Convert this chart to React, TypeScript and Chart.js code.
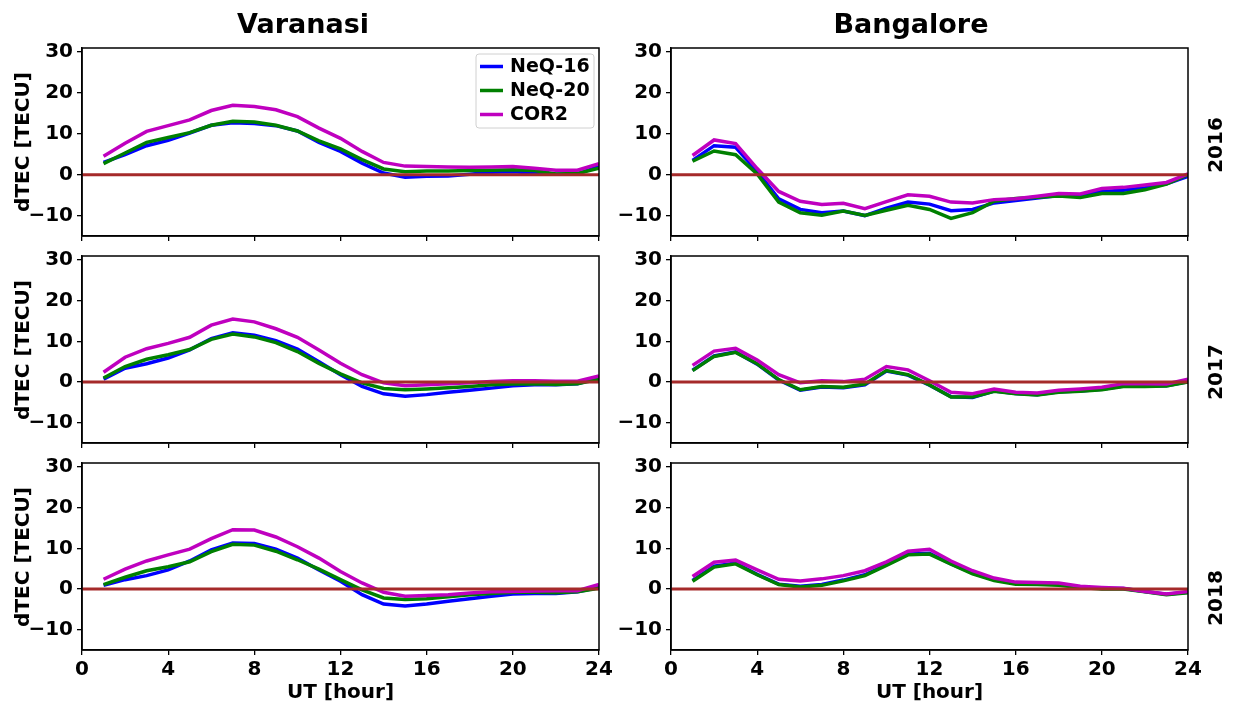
import React, { useEffect, useRef } from "react";
import { Chart, registerables } from "chart.js";

Chart.register(...registerables);

// ---- data -------------------------------------------------------------
const HOURS = [1, 2, 3, 4, 5, 6, 7, 8, 9, 10, 11, 12, 13, 14, 15, 16, 17, 18, 19, 20, 21, 22, 23, 24];
const X_TICKS = [0, 4, 8, 12, 16, 20, 24];
const Y_TICKS = [-10, 0, 10, 20, 30];
const SITES = ["Varanasi", "Bangalore"];
const YEARS = ["2016", "2017", "2018"];
const SERIES_NAMES = ["NeQ-16", "NeQ-20", "COR2"];

// Varanasi
const VARANASI_2016_NEQ16 = [3.0, 4.9, 7.1, 8.4, 10.2, 12.1, 12.7, 12.5, 12.0, 10.7, 7.9, 5.7, 2.8, 0.4, -0.6, -0.4, -0.3, 0.1, 0.6, 0.7, 0.4, 0.1, 0.2, 2.0];
const VARANASI_2016_NEQ20 = [2.7, 5.3, 7.9, 9.1, 10.3, 12.1, 13.1, 12.9, 12.1, 10.7, 8.3, 6.3, 3.7, 1.4, 0.7, 0.9, 0.9, 1.0, 1.1, 1.2, 1.0, 0.2, 0.3, 1.6];
const VARANASI_2016_COR2 = [4.5, 7.7, 10.6, 12.0, 13.4, 15.7, 17.0, 16.7, 15.9, 14.2, 11.4, 8.9, 5.7, 3.0, 2.1, 2.0, 1.9, 1.8, 1.9, 2.0, 1.6, 1.1, 1.1, 2.7];

const VARANASI_2017_NEQ16 = [0.7, 3.4, 4.5, 5.9, 7.9, 10.7, 12.1, 11.5, 10.2, 8.1, 5.0, 1.8, -1.1, -2.9, -3.5, -3.1, -2.5, -2.0, -1.5, -0.9, -0.7, -0.7, -0.4, 1.0];
const VARANASI_2017_NEQ20 = [1.0, 3.8, 5.6, 6.7, 8.0, 10.5, 11.8, 11.1, 9.7, 7.5, 4.6, 2.0, -0.2, -1.6, -1.9, -1.7, -1.4, -1.1, -0.7, -0.5, -0.4, -0.6, -0.4, 0.7];
const VARANASI_2017_COR2 = [2.4, 6.1, 8.2, 9.5, 11.0, 14.0, 15.5, 14.8, 13.1, 11.0, 7.9, 4.6, 1.8, -0.2, -0.9, -0.7, -0.4, -0.2, 0.1, 0.3, 0.3, 0.2, 0.2, 1.5];

const VARANASI_2018_NEQ16 = [0.9, 2.3, 3.3, 4.7, 6.9, 9.6, 11.3, 11.2, 9.8, 7.6, 4.7, 1.9, -1.4, -3.7, -4.2, -3.7, -3.0, -2.4, -1.8, -1.2, -1.1, -1.1, -0.7, 0.4];
const VARANASI_2018_NEQ20 = [1.1, 2.9, 4.5, 5.5, 6.7, 9.2, 11.0, 10.8, 9.3, 7.2, 4.9, 2.3, -0.2, -2.2, -2.6, -2.4, -1.9, -1.4, -1.1, -0.8, -0.8, -0.9, -0.7, 0.2];
const VARANASI_2018_COR2 = [2.4, 4.9, 6.9, 8.4, 9.8, 12.4, 14.6, 14.5, 12.8, 10.4, 7.6, 4.3, 1.5, -0.8, -1.8, -1.6, -1.4, -1.0, -0.7, -0.6, -0.5, -0.4, -0.4, 1.1];

// Bangalore
const BANGALORE_2016_NEQ16 = [3.5, 7.1, 6.7, 0.8, -5.9, -8.5, -9.3, -8.9, -10.0, -8.2, -6.7, -7.2, -8.8, -8.5, -6.9, -6.3, -5.7, -5.1, -5.1, -4.1, -3.8, -3.2, -2.2, -0.4];
const BANGALORE_2016_NEQ20 = [3.3, 5.8, 4.9, 0.2, -6.7, -9.3, -9.9, -8.9, -10.0, -8.7, -7.5, -8.5, -10.7, -9.3, -6.5, -5.8, -5.5, -5.2, -5.6, -4.6, -4.6, -3.7, -2.3, 0.0];
const BANGALORE_2016_COR2 = [4.7, 8.5, 7.6, 1.5, -4.1, -6.5, -7.3, -7.0, -8.3, -6.6, -4.9, -5.3, -6.7, -6.9, -6.1, -5.9, -5.3, -4.6, -4.7, -3.4, -3.1, -2.5, -1.9, 0.2];

const BANGALORE_2017_NEQ16 = [2.9, 6.4, 7.4, 4.4, 0.5, -2.0, -1.2, -1.4, -0.7, 2.7, 1.7, -0.8, -3.6, -3.8, -2.2, -2.8, -3.1, -2.4, -2.2, -1.8, -1.0, -1.0, -0.9, 0.1];
const BANGALORE_2017_NEQ20 = [2.8, 6.3, 7.3, 4.5, 0.6, -1.9, -1.1, -1.3, -0.5, 2.8, 1.8, -0.7, -3.7, -3.7, -2.3, -2.9, -3.2, -2.5, -2.3, -1.9, -1.1, -1.1, -1.0, 0.0];
const BANGALORE_2017_COR2 = [4.1, 7.6, 8.3, 5.4, 1.8, -0.2, 0.3, 0.1, 0.7, 3.8, 3.0, 0.3, -2.5, -2.9, -1.7, -2.5, -2.7, -2.0, -1.7, -1.3, -0.4, -0.4, -0.5, 0.7];

const BANGALORE_2018_NEQ16 = [2.1, 5.6, 6.4, 3.6, 1.2, 0.7, 1.1, 2.2, 3.5, 6.0, 8.6, 8.8, 6.2, 3.9, 2.3, 1.4, 1.3, 1.1, 0.5, 0.1, 0.1, -0.6, -1.3, -0.8];
const BANGALORE_2018_NEQ20 = [1.9, 5.4, 6.2, 3.5, 1.1, 0.5, 0.9, 2.0, 3.3, 5.8, 8.4, 8.6, 6.1, 3.7, 2.1, 1.2, 1.1, 0.9, 0.4, 0.0, 0.0, -0.7, -1.4, -0.9];
const BANGALORE_2018_COR2 = [3.1, 6.6, 7.1, 4.7, 2.4, 2.0, 2.5, 3.3, 4.5, 6.7, 9.3, 9.8, 6.9, 4.5, 2.7, 1.7, 1.6, 1.5, 0.7, 0.4, 0.2, -0.6, -1.2, -0.6];

const ZERO_LEVEL = 0;

// ---- styling ----------------------------------------------------------
const FONT_FAMILY = "'DejaVu Sans', 'Liberation Sans', sans-serif";
const SERIES_COLORS = ["#0000ff", "#008000", "#bf00bf"];
const ZERO_COLOR = "#a52a2a";
const X_MIN = 0;
const X_MAX = 24;
const Y_MIN = -15;
const Y_MAX = 31;

const PLOT_W = 517;
const COL_LEFT = [82, 671];
const ROW_TOP = [48, 256, 463];
const ROW_H = [188, 187, 187];

const AXIS_W = 60; // room for the y tick labels
const PAD_T = 16;
const PAD_R = 26;

const framePlugin = {
  id: "frame",
  afterDraw(chart: any) {
    const { ctx, chartArea } = chart;
    ctx.save();
    ctx.strokeStyle = "#000";
    ctx.lineWidth = 1.5;
    ctx.strokeRect(chartArea.left, chartArea.top, chartArea.right - chartArea.left, chartArea.bottom - chartArea.top);
    ctx.restore();
  },
};

const legendPlugin = {
  id: "seriesLegend",
  afterDraw(chart: any) {
    const { ctx, chartArea } = chart;
    const w = 118;
    const h = 74;
    const x = chartArea.right - 5 - w;
    const y = chartArea.top + 6;
    ctx.save();
    ctx.beginPath();
    ctx.roundRect(x, y, w, h, 3);
    ctx.fillStyle = "rgba(255,255,255,0.8)";
    ctx.fill();
    ctx.strokeStyle = "#d0d0d0";
    ctx.lineWidth = 1;
    ctx.stroke();
    ctx.font = `bold 19px ${FONT_FAMILY}`;
    ctx.textBaseline = "middle";
    SERIES_NAMES.forEach((name, i) => {
      const cy = y + 12.5 + i * 24;
      ctx.strokeStyle = SERIES_COLORS[i];
      ctx.lineWidth = 3.5;
      ctx.beginPath();
      ctx.moveTo(x + 4, cy);
      ctx.lineTo(x + 27, cy);
      ctx.stroke();
      ctx.fillStyle = "#000";
      ctx.fillText(name, x + 34, cy + 1);
    });
    ctx.restore();
  },
};

const tickLabel = (v: number | string) => {
  const n = Number(v);
  return n < 0 ? "\u2212" + Math.abs(n) : String(n);
};

type PanelProps = {
  col: number;
  row: number;
  series: number[][];
  legend: boolean;
  xLabels: boolean;
};

function Panel({ col, row, series, legend, xLabels }: PanelProps) {
  const ref = useRef<HTMLCanvasElement>(null);
  const plotH = ROW_H[row];
  const xh = xLabels ? 40 : 18;
  const cw = AXIS_W + PLOT_W + PAD_R;
  const ch = PAD_T + plotH + xh;

  useEffect(() => {
    if (!ref.current) return;
    const points = (ys: number[]) => HOURS.map((h, i) => ({ x: h, y: ys[i] }));
    const tickFont = { family: FONT_FAMILY, size: 20, weight: "bold" as const };
    const grid = {
      display: true,
      drawOnChartArea: false,
      drawTicks: true,
      tickLength: 5,
      color: "#000",
      lineWidth: 1.3,
    };
    const border = { display: true, color: "#000", width: 1.5 };

    const chart = new Chart(ref.current, {
      type: "line",
      data: {
        datasets: [
          {
            label: "zero",
            data: [
              { x: X_MIN, y: ZERO_LEVEL },
              { x: X_MAX, y: ZERO_LEVEL },
            ],
            borderColor: ZERO_COLOR,
            borderWidth: 3,
            pointRadius: 0,
            order: 0,
          },
          {
            label: SERIES_NAMES[2],
            data: points(series[2]),
            borderColor: SERIES_COLORS[2],
            borderWidth: 3.5,
            pointRadius: 0,
            order: 1,
          },
          {
            label: SERIES_NAMES[1],
            data: points(series[1]),
            borderColor: SERIES_COLORS[1],
            borderWidth: 3.5,
            pointRadius: 0,
            order: 2,
          },
          {
            label: SERIES_NAMES[0],
            data: points(series[0]),
            borderColor: SERIES_COLORS[0],
            borderWidth: 3.5,
            pointRadius: 0,
            order: 3,
          },
        ],
      },
      options: {
        animation: false,
        responsive: false,
        events: [],
        layout: { padding: { top: PAD_T, right: PAD_R, left: 0, bottom: 0 } },
        plugins: {
          legend: { display: false },
          tooltip: { enabled: false },
          title: { display: false },
        },
        scales: {
          x: {
            type: "linear",
            min: X_MIN,
            max: X_MAX,
            afterBuildTicks: (s: any) => {
              s.ticks = X_TICKS.map((v) => ({ value: v }));
            },
            afterFit: (s: any) => {
              s.height = xh;
            },
            ticks: {
              display: xLabels,
              font: tickFont,
              color: "#000",
              padding: 3,
              maxRotation: 0,
              autoSkip: false,
              callback: tickLabel,
            },
            grid,
            border,
          },
          y: {
            type: "linear",
            min: Y_MIN,
            max: Y_MAX,
            afterBuildTicks: (s: any) => {
              s.ticks = Y_TICKS.map((v) => ({ value: v }));
            },
            afterFit: (s: any) => {
              s.width = AXIS_W;
            },
            ticks: {
              font: tickFont,
              color: "#000",
              padding: 4,
              autoSkip: false,
              callback: tickLabel,
            },
            grid,
            border,
          },
        },
      },
      plugins: legend ? [framePlugin, legendPlugin] : [framePlugin],
    } as any);
    return () => chart.destroy();
  }, []);

  return (
    <canvas
      ref={ref}
      width={cw}
      height={ch}
      style={{
        position: "absolute",
        left: COL_LEFT[col] - AXIS_W,
        top: ROW_TOP[row] - PAD_T,
        width: cw,
        height: ch,
      }}
    />
  );
}

const textStyle = (
  cx: number,
  cy: number,
  size: number,
  rotate: boolean
): React.CSSProperties => ({
  position: "absolute",
  left: cx,
  top: cy,
  transform: `translate(-50%, -50%)${rotate ? " rotate(-90deg)" : ""}`,
  fontFamily: FONT_FAMILY,
  fontWeight: "bold",
  fontSize: size,
  lineHeight: 1,
  whiteSpace: "nowrap",
  color: "#000",
});

const PANELS = [
  { col: 0, row: 0, series: [VARANASI_2016_NEQ16, VARANASI_2016_NEQ20, VARANASI_2016_COR2] },
  { col: 0, row: 1, series: [VARANASI_2017_NEQ16, VARANASI_2017_NEQ20, VARANASI_2017_COR2] },
  { col: 0, row: 2, series: [VARANASI_2018_NEQ16, VARANASI_2018_NEQ20, VARANASI_2018_COR2] },
  { col: 1, row: 0, series: [BANGALORE_2016_NEQ16, BANGALORE_2016_NEQ20, BANGALORE_2016_COR2] },
  { col: 1, row: 1, series: [BANGALORE_2017_NEQ16, BANGALORE_2017_NEQ20, BANGALORE_2017_COR2] },
  { col: 1, row: 2, series: [BANGALORE_2018_NEQ16, BANGALORE_2018_NEQ20, BANGALORE_2018_COR2] },
];

const TITLE_X = [303, 911];
const YEAR_Y = [145, 372, 598];

export default function App() {
  return (
    <div
      style={{
        position: "fixed",
        left: 0,
        top: 0,
        width: 1234,
        height: 707,
        background: "#fff",
        overflow: "hidden",
      }}
    >
      {PANELS.map((p) => (
        <Panel
          key={`${p.col}-${p.row}`}
          col={p.col}
          row={p.row}
          series={p.series}
          legend={p.col === 0 && p.row === 0}
          xLabels={p.row === 2}
        />
      ))}
      {SITES.map((s, i) => (
        <div key={s} style={textStyle(TITLE_X[i], 23, 27, false)}>
          {s}
        </div>
      ))}
      {COL_LEFT.map((l, i) => (
        <div key={`ut-${i}`} style={textStyle(l + PLOT_W / 2, 691, 20, false)}>
          UT [hour]
        </div>
      ))}
      {ROW_TOP.map((t, i) => (
        <div key={`yl-${i}`} style={textStyle(22, t + ROW_H[i] / 2, 20, true)}>
          dTEC [TECU]
        </div>
      ))}
      {YEARS.map((y, i) => (
        <div key={y} style={textStyle(1215, YEAR_Y[i], 20, true)}>
          {y}
        </div>
      ))}
    </div>
  );
}
